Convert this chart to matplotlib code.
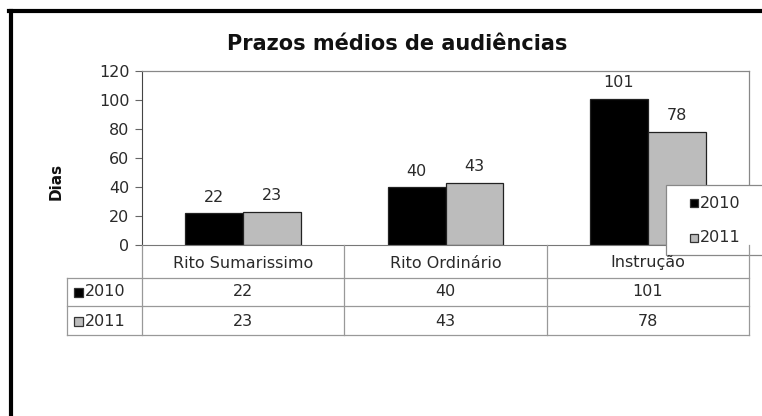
import matplotlib
matplotlib.use("Agg")
import matplotlib.pyplot as plt
from matplotlib.patches import Rectangle
from matplotlib.lines import Line2D
import numpy as np

plt.rcParams['font.family'] = ['DejaVu Sans']

title = "Prazos médios de audiências"
categories = ["Rito Sumarissimo", "Rito Ordinário", "Instrução"]
series_names = ["2010", "2011"]
values_2010 = [22, 40, 101]
values_2011 = [23, 43, 78]
yticks = [0, 20, 40, 60, 80, 100, 120]
ylabel = "Dias"

W, H = 762, 416
fig = plt.figure(figsize=(W / 100, H / 100), dpi=100)
fig.patch.set_facecolor('white')

def rect(l, t, r, b):
    return [l / W, 1 - b / H, (r - l) / W, (b - t) / H]

FS = 11.5
TC = '#2a2a2a'

# Plot area
L, T, R, B = 142, 71, 749, 245
ax = fig.add_axes(rect(L, T, R, B))
x = np.arange(len(categories))
bw = 1 / 3.5
colors = ['#000000', '#bcbcbc']
vals = [values_2010, values_2011]
for i, (v, c) in enumerate(zip(vals, colors)):
    bars = ax.bar(x + (i - 0.5) * bw, v, width=bw, color=c, edgecolor='#222222',
                  linewidth=0.9, zorder=2)
    for b_, val in zip(bars, v):
        ax.annotate(str(val), (b_.get_x() + b_.get_width() / 2, val),
                    xytext=(0, 11.5), textcoords='offset points', ha='center',
                    va='center', fontsize=FS, color=TC)
ax.set_xlim(-0.5, len(categories) - 0.5)
ax.set_ylim(0, 120)
ax.set_yticks(yticks)
ax.set_xticks([])
ax.tick_params(axis='y', length=5, width=0.8, color='#666666', labelsize=FS,
               labelcolor=TC, pad=4)
for s in ['top', 'right']:
    ax.spines[s].set_color('#888888')
    ax.spines[s].set_linewidth(0.9)
ax.spines['left'].set_color('#444444')
ax.spines['bottom'].set_color('#777777')

# Overlay in pixel coordinates for table, frame, legend
ov = fig.add_axes([0, 0, 1, 1], zorder=5)
ov.set_xlim(0, W)
ov.set_ylim(H, 0)
ov.axis('off')
ov.patch.set_alpha(0)

# outer frame (black border top/left)
ov.add_line(Line2D([10.5, 10.5], [11, H], color='black', lw=3))
ov.add_line(Line2D([9, W], [11, 11], color='black', lw=3))

ov.text(397, 44, title, ha='center', va='center', fontsize=15,
        fontweight='bold', color='#111111')
ov.text(56, 181, ylabel, ha='center', va='center', rotation=90, fontsize=11,
        fontweight='bold', color='#111111')

# table
gc = '#999999'
col_edges = [L + (R - L) * k / len(categories) for k in range(len(categories) + 1)]
row_y = [245, 278, 306, 335]
tl = 67
for xe in col_edges:
    ov.add_line(Line2D([xe, xe], [245, 335], color=gc, lw=0.9))
ov.add_line(Line2D([tl, tl], [278, 335], color=gc, lw=0.9))
for yy in row_y[1:]:
    ov.add_line(Line2D([tl, R], [yy, yy], color=gc, lw=0.9))
for k, cat in enumerate(categories):
    cx = (col_edges[k] + col_edges[k + 1]) / 2
    ov.text(cx, 263, cat, ha='center', va='center', fontsize=FS, color=TC)
    ov.text(cx, 292, str(values_2010[k]), ha='center', va='center', fontsize=FS, color=TC)
    ov.text(cx, 321, str(values_2011[k]), ha='center', va='center', fontsize=FS, color=TC)
for yy, name, c in [(292, series_names[0], colors[0]), (321, series_names[1], colors[1])]:
    ov.add_patch(Rectangle((74, yy - 4.5), 9, 9, facecolor=c, edgecolor='#333333', lw=0.9))
    ov.text(85, yy, name, ha='left', va='center', fontsize=FS, color=TC)

# legend box
ov.add_patch(Rectangle((666, 185), 110, 70, facecolor='white', edgecolor='#888888', lw=0.9,
                       clip_on=False))
for yy, name, c in [(203, series_names[0], colors[0]), (238, series_names[1], colors[1])]:
    ov.add_patch(Rectangle((690, yy - 4), 8, 8, facecolor=c, edgecolor='#333333', lw=0.9))
    ov.text(700, yy, name, ha='left', va='center', fontsize=FS, color=TC)

fig.savefig('out.png', dpi=100)
